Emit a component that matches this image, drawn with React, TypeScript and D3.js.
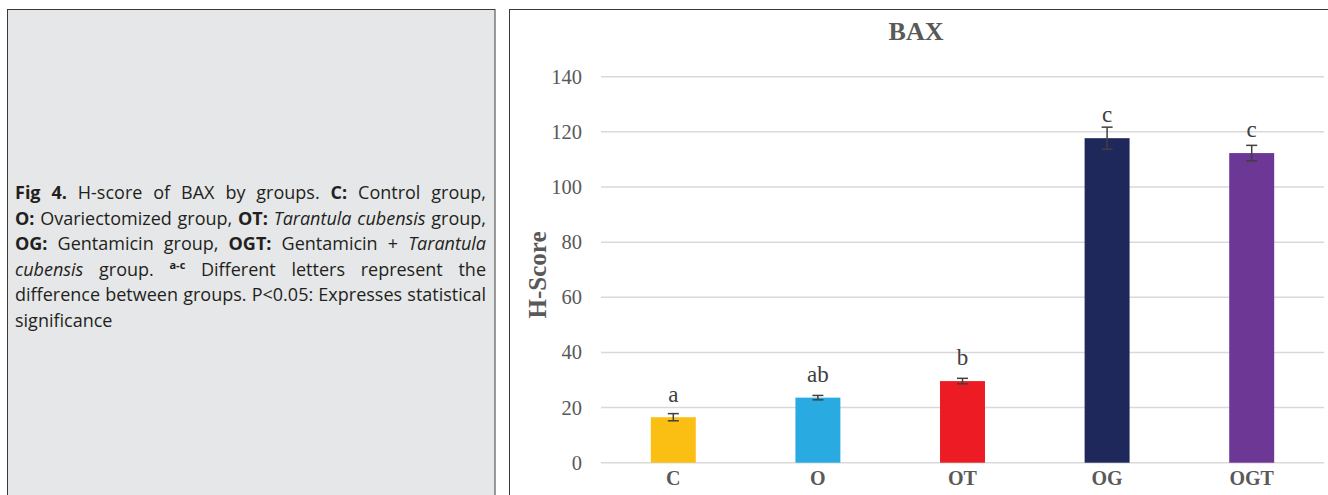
import React, { useLayoutEffect, useRef } from "react";
import * as d3 from "d3";

const categories = ["C", "O", "OT", "OG", "OGT"];
const values = [16.5, 23.6, 29.6, 117.7, 112.3];
const errors = [1.3, 0.8, 1.0, 4.0, 2.8];
const letters = ["a", "ab", "b", "c", "c"];
const colors = ["#FBBF14", "#29ABE2", "#ED1C24", "#1F285A", "#6C3795"];
const yTicks = [0, 20, 40, 60, 80, 100, 120, 140];
const chartTitle = "BAX";
const yTitle = "H-Score";

type Seg = { t: string; b?: boolean; i?: boolean; sup?: boolean };
const captionLines: Seg[][] = [
  [{ t: "Fig 4.", b: true }, { t: " H-score of BAX by groups. " }, { t: "C:", b: true }, { t: " Control group," }],
  [{ t: "O:", b: true }, { t: " Ovariectomized group, " }, { t: "OT:", b: true }, { t: " " }, { t: "Tarantula cubensis", i: true }, { t: " group," }],
  [{ t: "OG:", b: true }, { t: " Gentamicin group, " }, { t: "OGT:", b: true }, { t: " Gentamicin + " }, { t: "Tarantula", i: true }],
  [{ t: "cubensis", i: true }, { t: " group. " }, { t: "a-c", sup: true }, { t: " Different letters represent the" }],
  [{ t: "difference between groups. P<0.05: Expresses statistical" }],
  [{ t: "significance" }],
];

export default function App() {
  const lineRefs = useRef<(SVGTextElement | null)[]>([]);
  const capX0 = 15;
  const capX1 = 486;

  useLayoutEffect(() => {
    lineRefs.current.forEach((el, idx) => {
      if (!el || idx === captionLines.length - 1) return;
      el.style.wordSpacing = "0px";
      const w = el.getComputedTextLength();
      const text = el.textContent || "";
      const spaces = (text.match(/ /g) || []).length;
      if (spaces > 0) {
        el.style.wordSpacing = `${(capX1 - capX0 - w) / spaces}px`;
      }
    });
  }, []);

  const x = d3
    .scaleBand<string>()
    .domain(categories)
    .range([601, 1324])
    .paddingInner(0.689)
    .paddingOuter(0.3445);
  const y = d3.scaleLinear().domain([0, 140]).range([462.7, 76.7]);
  const serif = "'Liberation Serif', 'Times New Roman', serif";
  const bw = x.bandwidth();

  return (
    <svg
      width={1328}
      height={495}
      style={{ position: "absolute", left: 0, top: 0, display: "block" }}
    >
      <rect x={0} y={0} width={1328} height={495} fill="#ffffff" />
      {/* left caption panel */}
      <rect x={7.5} y={9.5} width={487.5} height={520} fill="#e6e7e8" stroke="#3a3a3a" strokeWidth={1} />
      {captionLines.map((line, li) => (
        <text
          key={li}
          ref={(el) => {
            lineRefs.current[li] = el;
          }}
          x={capX0}
          y={199 + li * 25.5}
          fontFamily="'Open Sans', 'Noto Sans', sans-serif"
          fontSize={18}
          fill="#231f20"
          style={{ whiteSpace: "pre" }}
        >
          {line.map((s, si) =>
            s.sup ? (
              <tspan key={si} fontSize={11} fontWeight="bold" dy={-7}>
                {s.t}
              </tspan>
            ) : (
              <tspan
                key={si}
                fontWeight={s.b ? "bold" : "normal"}
                fontStyle={s.i ? "italic" : "normal"}
                dy={si > 0 && line[si - 1].sup ? 7 : 0}
              >
                {s.t}
              </tspan>
            )
          )}
        </text>
      ))}

      {/* right chart panel */}
      <rect x={509.5} y={9.5} width={840} height={520} fill="#ffffff" stroke="#3a3a3a" strokeWidth={1} />
      <text
        x={916}
        y={40}
        textAnchor="middle"
        fontFamily={serif}
        fontWeight="bold"
        fontSize={26}
        fill="#595959"
      >
        {chartTitle}
      </text>

      {yTicks.map((t) => (
        <g key={t}>
          <line x1={601} x2={1324} y1={y(t)} y2={y(t)} stroke="#d9d9d9" strokeWidth={1.5} />
          <text
            x={582}
            y={y(t) + 7}
            textAnchor="end"
            fontFamily={serif}
            fontSize={20.5}
            fill="#595959"
          >
            {t}
          </text>
        </g>
      ))}

      <text
        transform={`translate(546,275) rotate(-90)`}
        textAnchor="middle"
        fontFamily={serif}
        fontWeight="bold"
        fontSize={25}
        fill="#595959"
      >
        {yTitle}
      </text>

      {categories.map((c, i) => {
        const cx = (x(c) as number) + bw / 2;
        const top = y(values[i]);
        return (
          <g key={c}>
            <rect x={x(c)} y={top} width={bw} height={y(0) - top} fill={colors[i]} />
            <line x1={cx} x2={cx} y1={y(values[i] + errors[i])} y2={y(values[i] - errors[i])} stroke="#404040" strokeWidth={1.5} />
            <line x1={cx - 5.5} x2={cx + 5.5} y1={y(values[i] + errors[i])} y2={y(values[i] + errors[i])} stroke="#404040" strokeWidth={1.5} />
            <line x1={cx - 5.5} x2={cx + 5.5} y1={y(values[i] - errors[i])} y2={y(values[i] - errors[i])} stroke="#404040" strokeWidth={1.5} />
            <text x={cx} y={top - 15.7} textAnchor="middle" fontFamily={serif} fontSize={23} fill="#404040">
              {letters[i]}
            </text>
            <text x={cx} y={485} textAnchor="middle" fontFamily={serif} fontWeight="bold" fontSize={20} fill="#595959">
              {c}
            </text>
          </g>
        );
      })}
    </svg>
  );
}
